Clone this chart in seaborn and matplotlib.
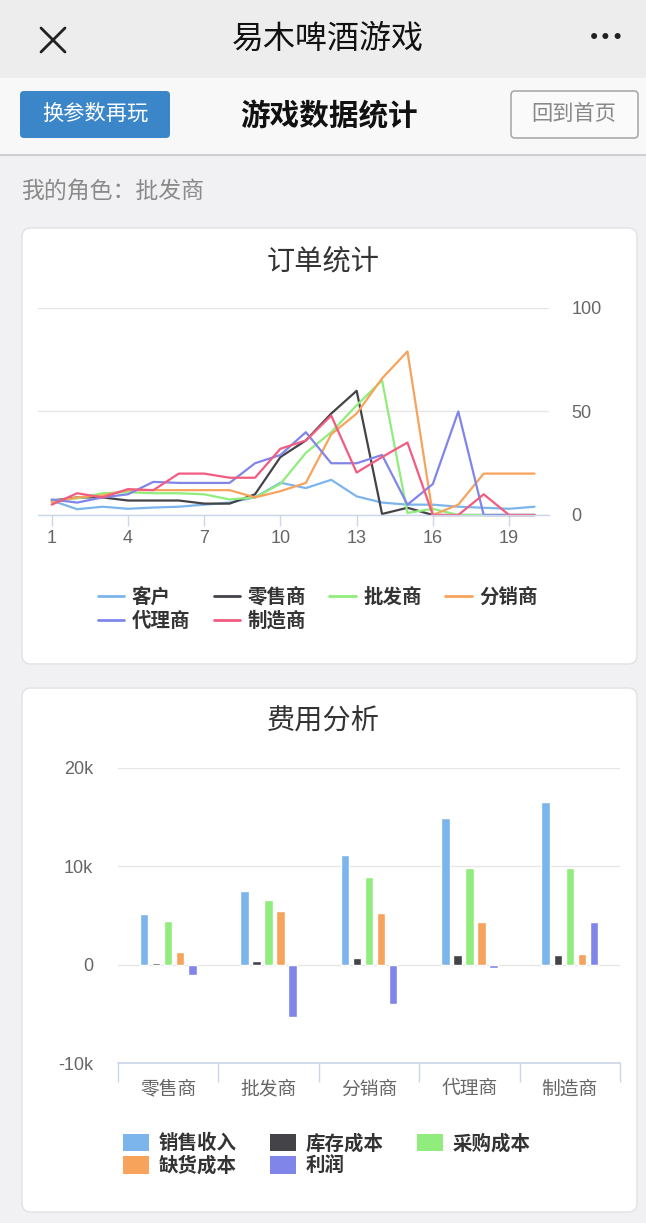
import pandas as pd
import matplotlib
matplotlib.use('Agg')
import matplotlib.pyplot as plt
from matplotlib.patches import FancyBboxPatch, Patch
from matplotlib.lines import Line2D
from matplotlib.ticker import FuncFormatter, FixedLocator
import seaborn as sns

# order data (per round)
rounds = list(range(1, 21))
roles_line = ['客户', '零售商', '批发商', '分销商', '代理商', '制造商']
customer = [7, 2.8, 4, 3, 3.6, 4, 5, 6, 8.5, 15.6, 13, 17, 9, 6, 5, 5, 4, 3.5, 3, 4]
retailer = [7, 8.5, 8.5, 7, 7, 7, 5.5, 5.5, 10, 28, 36, 49, 60, 0.5, 3.5, 0, 0, 0, 0, 0]
wholesaler = [7, 8, 10.5, 11, 10.5, 10.5, 10, 7.5, 8.5, 15, 30, 40, 53, 65, 1, 3, 0, 0, 0, 0]
distributor = [6, 8.5, 9.5, 12, 12, 12, 12, 12, 8.5, 11.5, 15.5, 39, 49, 66, 79, 0, 5, 20, 20, 20]
agent = [7.5, 6, 8.5, 10, 16, 15.5, 15.5, 15.5, 25, 29, 40, 25, 25, 29, 5, 15, 50, 0, 0, 0]
manufacturer = [5, 10.5, 8.5, 12.5, 12, 20, 20, 18, 18, 32, 36, 48, 20.5, 28, 35, 0, 0, 10, 0, 0]

# cost data (per role)
roles_bar = ['零售商', '批发商', '分销商', '代理商', '制造商']
items = ['销售收入', '库存成本', '采购成本', '缺货成本', '利润']
sales = [5150, 7450, 11150, 14900, 16500]
inventory = [200, 400, 700, 950, 950]
purchase = [4400, 6600, 8900, 9800, 9800]
shortage = [1250, 5500, 5300, 4300, 1100]
profit = [-1000, -5300, -4000, -300, 4300]

hc_colors = ['#7cb5ec', '#434348', '#90ed7d', '#f7a35c', '#8085e9', '#f15c80']

sns.set_theme(style='white')
plt.rcParams['font.family'] = ['Liberation Sans', 'Noto Sans CJK SC', 'DejaVu Sans']

W, H = 646, 1223
fig = plt.figure(figsize=(W / 100, H / 100), dpi=100)
fig.patch.set_facecolor('#f1f1f3')


def fx(x):
    return x / W


def fy(y):
    return 1 - y / H


def box(x0, y0, x1, y1, fc, ec='none', r=0, lw=1):
    # pixel box (top-left origin) drawn in inches so the rounding stays round
    p = FancyBboxPatch((x0 / 100, (H - y1) / 100), (x1 - x0) / 100, (y1 - y0) / 100,
                       boxstyle=f'round,pad=0,rounding_size={r / 100}',
                       transform=fig.dpi_scale_trans, fc=fc, ec=ec, lw=lw, zorder=-5)
    fig.patches.append(p)


# header bars
box(0, 0, W, 78, '#ededed')
box(0, 78, W, 155, '#f8f8f8')
fig.lines.append(Line2D([0, 1], [fy(155), fy(155)], transform=fig.transFigure, color='#c8c8c8', lw=1.2))
fig.lines.append(Line2D([fx(41), fx(65)], [fy(28), fy(52)], transform=fig.transFigure, color='#222222', lw=2))
fig.lines.append(Line2D([fx(41), fx(65)], [fy(52), fy(28)], transform=fig.transFigure, color='#222222', lw=2))
fig.text(fx(328), fy(40), '易木啤酒游戏', ha='center', va='center', fontsize=23, color='#111111')
fig.text(fx(606), fy(38), '•••', ha='center', va='center', fontsize=15, color='#222222',
         family='DejaVu Sans')

box(20, 91, 170, 138, '#3a86c9', r=4)
fig.text(fx(95), fy(114), '换参数再玩', ha='center', va='center', fontsize=15.3, color='white')
fig.text(fx(329), fy(117), '游戏数据统计', ha='center', va='center', fontsize=21.3,
         color='#111111', weight='bold')
box(511, 91, 638, 138, '#fafafa', ec='#aaaaaa', r=4, lw=1.2)
fig.text(fx(574), fy(114), '回到首页', ha='center', va='center', fontsize=15.3, color='#888888')

fig.text(fx(21), fy(191), '我的角色：批发商', ha='left', va='center', fontsize=16.5, color='#8a8a8a')

# cards
box(22, 228, 637, 664, 'white', ec='#e2e2e4', r=9, lw=1)
box(22, 688, 637, 1212, 'white', ec='#e2e2e4', r=9, lw=1)
fig.text(fx(323), fy(262), '订单统计', ha='center', va='center', fontsize=20.3, color='#333333')
fig.text(fx(323), fy(722), '费用分析', ha='center', va='center', fontsize=20.3, color='#333333')

# ---- line chart: orders ----
df_line = pd.DataFrame({'回合': rounds * 6,
                        '订单': customer + retailer + wholesaler + distributor + agent + manufacturer,
                        '角色': sum([[r] * len(rounds) for r in roles_line], [])})

ax1 = fig.add_axes([fx(38), fy(515), (549 - 38) / W, (515 - 308) / H])
ax1.set_zorder(2)
ax1.set_facecolor('none')
sns.lineplot(data=df_line, x='回合', y='订单', hue='角色', hue_order=roles_line,
             palette=hc_colors, linewidth=1.6, ax=ax1, legend=False)
for ln in ax1.lines:
    ln.set_clip_on(False)
ax1.set_xlim(0.46, 20.57)
ax1.set_ylim(0, 100)
ax1.set_xlabel('')
ax1.set_ylabel('')
ax1.set_xticks(range(1, 20, 3))
ax1.set_yticks([0, 50, 100])
ax1.yaxis.tick_right()
ax1.grid(axis='y', color='#e6e6e6', lw=1)
ax1.grid(axis='x', visible=False)
ax1.set_axisbelow(True)
for s in ['top', 'left', 'right']:
    ax1.spines[s].set_visible(False)
ax1.spines['bottom'].set_color('#ccd6eb')
ax1.spines['bottom'].set_linewidth(1)
ax1.tick_params(axis='x', direction='out', length=8, width=1, color='#ccd6eb',
                labelsize=13, labelcolor='#666666', pad=3, bottom=True)
ax1.tick_params(axis='y', length=0, labelsize=13, labelcolor='#666666', pad=16)
for t in ax1.get_yticklabels():
    t.set_ha('left')

# legend filled column by column, so reorder to read row by row
line_order = [0, 4, 1, 5, 2, 3]
leg_handles = [Line2D([], [], color=hc_colors[i], lw=2) for i in line_order]
fig.legend(leg_handles, [roles_line[i] for i in line_order], loc='upper left',
           bbox_to_anchor=(fx(88), fy(578)),
           ncol=4, frameon=False, borderpad=0, handlelength=1.35, handletextpad=0.4,
           columnspacing=1.2, labelspacing=0.22,
           prop={'family': ['Noto Sans CJK SC'], 'weight': 'bold', 'size': 14}, labelcolor='#333333')

# ---- bar chart: costs ----
df_bar = pd.DataFrame({'角色': roles_bar * 5,
                       '金额': sales + inventory + purchase + shortage + profit,
                       '项目': sum([[i] * len(roles_bar) for i in items], [])})

ax2 = fig.add_axes([fx(118), fy(1063), (620 - 118) / W, (1063 - 768) / H])
ax2.set_zorder(2)
ax2.set_facecolor('none')
sns.barplot(data=df_bar, x='角色', y='金额', hue='项目', hue_order=items, order=roles_bar,
            palette=hc_colors[:5], width=0.6, gap=0.3, saturation=1, ax=ax2, legend=False)
ax2.set_xlim(-0.5, 4.5)
ax2.set_ylim(-10000, 20000)
ax2.set_xlabel('')
ax2.set_ylabel('')
ax2.set_yticks([-10000, 0, 10000, 20000])
ax2.yaxis.set_major_formatter(FuncFormatter(lambda v, p: '0' if v == 0 else f'{int(v / 1000)}k'))
ax2.grid(axis='y', color='#e6e6e6', lw=1)
ax2.grid(axis='x', visible=False)
ax2.set_axisbelow(True)
for s in ['top', 'left', 'right']:
    ax2.spines[s].set_visible(False)
ax2.spines['bottom'].set_color('#ccd6eb')
ax2.xaxis.set_minor_locator(FixedLocator([-0.5, 0.5, 1.5, 2.5, 3.5, 4.5]))
ax2.tick_params(axis='x', which='minor', direction='out', length=14, width=1, color='#ccd6eb', bottom=True)
ax2.tick_params(axis='x', which='major', length=0, labelsize=13.5, labelcolor='#666666', pad=11)
for t in ax2.get_xticklabels():
    t.set_family(['Noto Sans CJK SC'])
ax2.tick_params(axis='y', length=0, labelsize=13, labelcolor='#666666', pad=18)

bar_order = [0, 3, 1, 4, 2]
bar_handles = [Patch(fc=hc_colors[i], ec='none') for i in bar_order]
fig.legend(bar_handles, [items[i] for i in bar_order], loc='upper left',
           bbox_to_anchor=(fx(113), fy(1124)),
           ncol=3, frameon=False, borderpad=0, handlelength=1.35, handleheight=1.0,
           handletextpad=0.5, columnspacing=1.7, labelspacing=0.15,
           prop={'family': ['Noto Sans CJK SC'], 'weight': 'bold', 'size': 14}, labelcolor='#333333')

fig.savefig('out.png', dpi=100, facecolor=fig.get_facecolor())
